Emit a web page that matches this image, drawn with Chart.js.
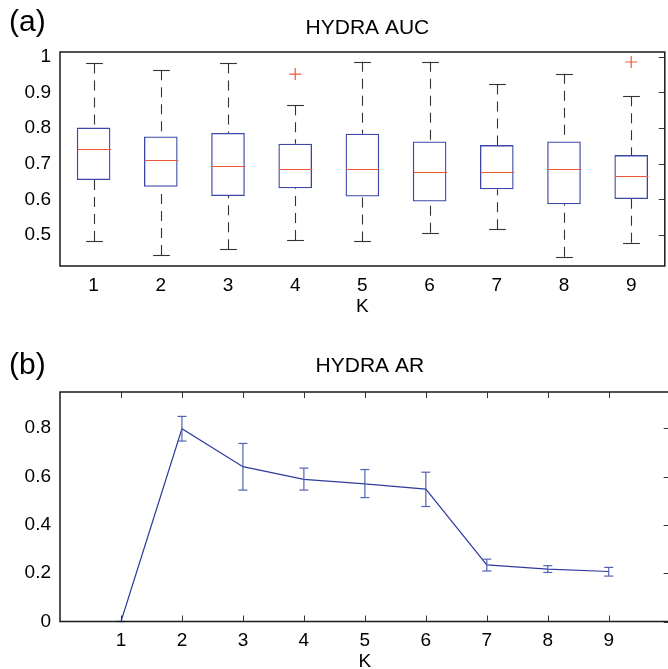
<!DOCTYPE html>
<html>
<head>
<meta charset="utf-8">
<script src="https://cdn.jsdelivr.net/npm/chart.js@4.4.1/dist/chart.umd.min.js"></script>
<style>
  html, body { margin: 0; padding: 0; background: #fff; overflow: hidden; width: 668px; height: 669px; }
  #wrap { position: relative; width: 668px; height: 669px; overflow: hidden; }
  canvas { position: absolute; left: 0; display: block; }
  #c1 { top: 0; }
  #c2 { top: 334px; }
</style>
</head>
<body>
<div id="wrap">
  <canvas id="c1" width="672" height="334"></canvas>
  <canvas id="c2" width="672" height="345"></canvas>
</div>
<script>
// ---------- data ----------
const kLabels = ['1', '2', '3', '4', '5', '6', '7', '8', '9'];

// (a) HYDRA AUC boxplot
const aucWhiskerLow  = [0.483, 0.444, 0.460, 0.486, 0.482, 0.506, 0.516, 0.439, 0.478];
const aucQ1          = [0.654, 0.635, 0.609, 0.631, 0.608, 0.594, 0.628, 0.586, 0.601];
const aucMedian      = [0.741, 0.710, 0.693, 0.686, 0.685, 0.677, 0.677, 0.684, 0.664];
const aucQ3          = [0.801, 0.776, 0.786, 0.756, 0.784, 0.762, 0.752, 0.762, 0.724];
const aucWhiskerHigh = [0.981, 0.962, 0.981, 0.864, 0.986, 0.986, 0.922, 0.952, 0.889];
const aucOutliers    = [null, null, null, 0.951, null, null, null, null, 0.985];
const aucTicks       = [0.5, 0.6, 0.7, 0.8, 0.9, 1];

// (b) HYDRA AR mean with error bars
const arK       = [1, 2, 3, 4, 5, 6, 7, 8, 9];
const arMean    = [0, 0.798, 0.641, 0.588, 0.570, 0.548, 0.234, 0.217, 0.207];
const arErrLow  = [0, 0.747, 0.544, 0.544, 0.513, 0.476, 0.209, 0.203, 0.188];
const arErrHigh = [0, 0.849, 0.737, 0.635, 0.629, 0.618, 0.258, 0.231, 0.224];
const arTicks   = [0, 0.2, 0.4, 0.6, 0.8];

// ---------- styles ----------
const FONT = 'Liberation Sans, Arial, Helvetica, sans-serif';
const tickFont = { family: FONT, size: 19 };
const BOX_BLUE = '#3b47aa';
const MED_RED = '#f0583a';
const LINE_BLUE = '#2e3b9e';
const ERR_BLUE = '#5361b3';
const fmt = v => String(+Number(v).toFixed(2));

// frame + inward ticks plugin
function framePlugin(opts) {
  return {
    id: 'frame',
    afterDraw(chart) {
      const { ctx, chartArea: a, scales: { x, y } } = chart;
      ctx.save();
      ctx.strokeStyle = '#1a1a1a';
      ctx.lineWidth = 1.5;
      ctx.strokeRect(a.left, a.top, a.right - a.left, a.bottom - a.top);
      ctx.lineWidth = 1;
      ctx.strokeStyle = '#333';
      const tl = 6;
      if (opts.rightTicks) {
        y.ticks.forEach(t => {
          const py = Math.round(y.getPixelForValue(t.value)) + 0.5;
          ctx.beginPath(); ctx.moveTo(a.right - tl, py); ctx.lineTo(a.right, py); ctx.stroke();
        });
      }
      if (opts.xTicks) {
        x.ticks.forEach(t => {
          const px = Math.round(x.getPixelForValue(t.value)) + 0.5;
          ctx.beginPath(); ctx.moveTo(px, a.bottom); ctx.lineTo(px, a.bottom - tl); ctx.stroke();
          ctx.beginPath(); ctx.moveTo(px, a.top); ctx.lineTo(px, a.top + tl); ctx.stroke();
        });
      }
      // panel label and title
      ctx.fillStyle = '#000';
      ctx.textBaseline = 'middle';
      ctx.textAlign = 'left';
      ctx.font = '30px ' + FONT;
      ctx.fillText(opts.panel, 9, opts.panelY);
      ctx.textAlign = 'center';
      ctx.font = '21px ' + FONT;
      ctx.fillText(opts.title, (a.left + a.right) / 2 + 5, opts.titleY);
      ctx.restore();
    }
  };
}

// whiskers, caps, medians
const boxExtras = {
  id: 'boxExtras',
  afterDatasetsDraw(chart) {
    const { ctx, scales: { x, y } } = chart;
    const cw = x.getPixelForValue(1) - x.getPixelForValue(0);
    ctx.save();
    for (let i = 0; i < kLabels.length; i++) {
      const cx = Math.round(x.getPixelForValue(i)) + 0.5;
      ctx.strokeStyle = '#333';
      ctx.lineWidth = 1.1;
      ctx.setLineDash([10, 7]);
      ctx.beginPath();
      ctx.moveTo(cx, y.getPixelForValue(aucWhiskerHigh[i]));
      ctx.lineTo(cx, y.getPixelForValue(aucQ3[i]));
      ctx.stroke();
      ctx.beginPath();
      ctx.moveTo(cx, y.getPixelForValue(aucWhiskerLow[i]));
      ctx.lineTo(cx, y.getPixelForValue(aucQ1[i]));
      ctx.stroke();
      ctx.setLineDash([]);
      const cap = cw * 0.125;
      [aucWhiskerHigh[i], aucWhiskerLow[i]].forEach(v => {
        const py = Math.round(y.getPixelForValue(v)) + 0.5;
        ctx.beginPath(); ctx.moveTo(cx - cap, py); ctx.lineTo(cx + cap, py); ctx.stroke();
      });
      ctx.strokeStyle = MED_RED;
      ctx.lineWidth = 1.2;
      const half = cw * 0.25;
      const my = Math.round(y.getPixelForValue(aucMedian[i])) + 0.5;
      ctx.beginPath(); ctx.moveTo(cx - half, my); ctx.lineTo(cx + half, my); ctx.stroke();
    }
    ctx.restore();
  }
};

// error bars
const errBars = {
  id: 'errBars',
  afterDatasetsDraw(chart) {
    const { ctx, scales: { x, y } } = chart;
    ctx.save();
    ctx.strokeStyle = ERR_BLUE;
    ctx.lineWidth = 1.2;
    for (let i = 0; i < arK.length; i++) {
      const cx = x.getPixelForValue(arK[i]);
      const yl = y.getPixelForValue(arErrLow[i]);
      const yh = y.getPixelForValue(arErrHigh[i]);
      ctx.beginPath(); ctx.moveTo(cx, yl); ctx.lineTo(cx, yh); ctx.stroke();
      [yl, yh].forEach(py => {
        ctx.beginPath(); ctx.moveTo(cx - 4.5, py); ctx.lineTo(cx + 4.5, py); ctx.stroke();
      });
    }
    ctx.restore();
  }
};

const commonPlugins = { legend: { display: false }, tooltip: { enabled: false }, title: { display: false } };

// ---------- chart (a) ----------
new Chart(document.getElementById('c1'), {
  type: 'bar',
  data: {
    labels: kLabels,
    datasets: [
      {
        type: 'bar',
        data: aucQ1.map((q, i) => [q, aucQ3[i]]),
        backgroundColor: 'rgba(0,0,0,0)',
        borderColor: BOX_BLUE,
        borderWidth: 1.3,
        borderSkipped: false,
        categoryPercentage: 0.5,
        barPercentage: 1.0
      },
      {
        type: 'line',
        data: aucOutliers,
        showLine: false,
        pointStyle: 'cross',
        pointRadius: 6,
        pointBorderColor: MED_RED,
        pointBorderWidth: 1.2,
        borderColor: MED_RED
      }
    ]
  },
  options: {
    responsive: false,
    animation: false,
    events: [],
    layout: { padding: { top: 52, right: 2.5, left: 0, bottom: 0 } },
    plugins: commonPlugins,
    scales: {
      x: {
        type: 'category',
        offset: true,
        grid: { display: false, drawTicks: false },
        border: { display: false },
        ticks: { font: tickFont, color: '#000', padding: 8, maxRotation: 0 },
        title: { display: true, text: 'K', font: tickFont, color: '#000', padding: { top: 0, bottom: 16 } },
        afterFit(s) { s.height = 68; }
      },
      y: {
        min: 0.413, max: 1.013,
        grid: { display: false, drawTicks: false },
        border: { display: false },
        afterBuildTicks(s) { s.ticks = aucTicks.map(v => ({ value: v })); },
        ticks: { font: tickFont, color: '#000', padding: 9, callback: fmt },
        afterFit(s) { s.width = 60; }
      }
    }
  },
  plugins: [boxExtras, framePlugin({ rightTicks: true, xTicks: false, panel: '(a)', panelY: 23, title: 'HYDRA AUC', titleY: 28.5 })]
});

// ---------- chart (b) ----------
new Chart(document.getElementById('c2'), {
  type: 'line',
  data: {
    datasets: [{
      data: arK.map((k, i) => ({ x: k, y: arMean[i] })),
      borderColor: LINE_BLUE,
      borderWidth: 1.2,
      pointRadius: 0,
      tension: 0,
      fill: false
    }]
  },
  options: {
    responsive: false,
    animation: false,
    events: [],
    layout: { padding: { top: 58, right: 2.3, left: 0, bottom: 0 } },
    plugins: commonPlugins,
    scales: {
      x: {
        type: 'linear',
        min: 0, max: 10,
        grid: { display: false, drawTicks: false },
        border: { display: false },
        afterBuildTicks(s) { s.ticks = kLabels.map(v => ({ value: Number(v) })); },
        ticks: { font: tickFont, color: '#000', padding: 8, maxRotation: 0, callback: fmt },
        title: { display: true, text: 'K', font: tickFont, color: '#000', padding: { top: 0, bottom: 5.6 } },
        afterFit(s) { s.height = 57.5; }
      },
      y: {
        min: 0, max: 0.95,
        grid: { display: false, drawTicks: false },
        border: { display: false },
        afterBuildTicks(s) { s.ticks = arTicks.map(v => ({ value: v })); },
        ticks: { font: tickFont, color: '#000', padding: 9, callback: fmt },
        afterFit(s) { s.width = 60; }
      }
    }
  },
  plugins: [errBars, framePlugin({ rightTicks: true, xTicks: true, panel: '(b)', panelY: 32, title: 'HYDRA AR', titleY: 32.7 })]
});
</script>
</body>
</html>
